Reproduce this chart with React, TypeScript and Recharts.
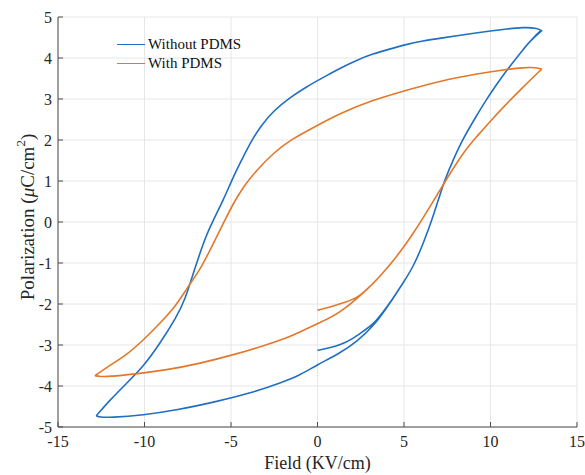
import React from 'react';
import { LineChart, Line, XAxis, YAxis, CartesianGrid, Legend } from 'recharts';

const xTicks = [-15, -10, -5, 0, 5, 10, 15];
const yTicks = [-5, -4, -3, -2, -1, 0, 1, 2, 3, 4, 5];

// Without PDMS (field in KV/cm, polarization in uC/cm2), in drawing order
const blueField = [
  0.0, 0.0, 0.7, 1.3, 2.0, 2.65, 3.3, 4.38, 5.0, 5.54, 6.12, 6.69, 7.27, 7.76, 8.3, 9.2, 9.75, 10.36, 10.94, 11.9, 12.4, 12.9,
  12.96, 12.96, 12.76, 11.9, 10.94, 10.0, 9.0, 7.08, 6.12, 5.02, 4.19, 3.2, 2.27, 1.3, 0.62, 0.0, -0.62, -1.59, -2.55, -3.32, -3.9,
  -4.29, -4.86, -5.44, -6.02, -6.5, -6.79, -7.18, -7.66, -8.14, -9.1, -10.07, -11.03, -11.99, -12.76, -12.8,
  -12.57, -11.99, -10.07, -8.14, -5.83, -3.9, -1.98, -1.0, -0.05, 1.3, 2.27, 3.3, 4.38, 5.0, 5.54,
  6.12, 6.69, 7.27, 7.76, 8.3, 9.2, 9.75, 10.36, 10.94, 11.9, 12.4, 12.94, 12.94,
];
const bluePol = [
  -3.13, -3.13, -3.07, -3.0, -2.86, -2.66, -2.48, -1.86, -1.45, -1.09, -0.52, 0.13, 0.94, 1.43, 1.95, 2.6, 2.98, 3.36, 3.7, 4.22, 4.46, 4.68,
  4.66, 4.66, 4.73, 4.75, 4.71, 4.66, 4.6, 4.48, 4.42, 4.32, 4.22, 4.1, 3.95, 3.75, 3.59, 3.45, 3.3, 3.04, 2.71, 2.32, 1.92,
  1.59, 1.11, 0.54, 0.05, -0.4, -0.76, -1.25, -1.9, -2.31, -2.96, -3.53, -3.93, -4.34, -4.71, -4.73,
  -4.76, -4.77, -4.71, -4.59, -4.38, -4.18, -3.9, -3.73, -3.49, -3.2, -2.92, -2.52, -1.86, -1.45, -1.09,
  -0.52, 0.13, 0.94, 1.43, 1.95, 2.6, 2.98, 3.36, 3.7, 4.22, 4.46, 4.66, 4.66,
];

// With PDMS
const orangeField = [
  0.0, 0.0, 0.7, 1.3, 2.27, 2.84, 3.61, 4.58, 5.54, 6.5, 7.47, 8.53, 9.2, 9.97, 10.74, 11.9, 12.96, 12.96,
  12.67, 11.9, 10.74, 9.0, 8.05, 7.08, 6.12, 5.02, 3.23, 1.3, 0.05, -1.59, -2.55, -3.51, -4.29, -4.86, -5.44,
  -5.92, -6.21, -6.79, -7.56, -8.14, -9.1, -10.07, -11.03, -11.99, -12.86, -12.86,
  -12.57, -11.99, -10.65, -8.72, -6.79, -4.86, -2.94, -1.59, -1.01, 0.05, 1.3, 2.84, 3.61, 4.58, 5.54,
  6.5, 7.47, 8.53, 9.2, 9.97, 10.74, 11.9, 12.96, 12.96,
];
const orangePol = [
  -2.15, -2.15, -2.08, -2.0, -1.86, -1.66, -1.33, -0.85, -0.28, 0.37, 1.06, 1.76, 2.08, 2.45, 2.8, 3.3, 3.73, 3.73,
  3.77, 3.77, 3.71, 3.6, 3.52, 3.43, 3.33, 3.2, 2.98, 2.65, 2.37, 2.0, 1.68, 1.27, 0.86, 0.46, -0.03,
  -0.44, -0.68, -1.17, -1.62, -2.02, -2.47, -2.88, -3.24, -3.49, -3.75, -3.75,
  -3.77, -3.77, -3.71, -3.61, -3.45, -3.24, -3.0, -2.8, -2.68, -2.47, -2.23, -1.66, -1.33, -0.85, -0.28,
  0.37, 1.06, 1.76, 2.08, 2.45, 2.8, 3.3, 3.73, 3.73,
];

const blueData = blueField.map((f, i) => ({ f, p: bluePol[i] }));
const orangeData = orangeField.map((f, i) => ({ f, p: orangePol[i] }));

const FONT = '"Liberation Serif", "Times New Roman", serif';
const AXIS = '#4d4d4d';
const TXT = '#262626';

const BottomTick = (props: any) => {
  const { x, y, payload } = props;
  const ay = y - 8;
  return (
    <g>
      <line x1={x} x2={x} y1={ay} y2={ay - 5} stroke={AXIS} />
      <text x={x} y={y} dy="0.75em" textAnchor="middle" fontFamily={FONT} fontSize={16} fill={TXT}>
        {payload.value}
      </text>
    </g>
  );
};

const LeftTick = (props: any) => {
  const { x, y, payload } = props;
  const ax = x + 6;
  return (
    <g>
      <line x1={ax} x2={ax + 5} y1={y} y2={y} stroke={AXIS} />
      <text x={x} y={y} dy="0.35em" textAnchor="end" fontFamily={FONT} fontSize={16} fill={TXT}>
        {payload.value}
      </text>
    </g>
  );
};

const TopTick = (props: any) => {
  const { x, y } = props;
  const ay = y + 8;
  return <line x1={x} x2={x} y1={ay} y2={ay + 5} stroke={AXIS} />;
};

const RightTick = (props: any) => {
  const { x, y } = props;
  const ax = x - 8;
  return <line x1={ax} x2={ax - 5} y1={y} y2={y} stroke={AXIS} />;
};

const XLabel = (props: any) => {
  const { viewBox } = props;
  const cx = viewBox.x + viewBox.width / 2;
  return (
    <text x={cx} y={463} textAnchor="middle" dominantBaseline="central" fontFamily={FONT} fontSize={18} fill={TXT}>
      Field (KV/cm)
    </text>
  );
};

const YLabel = () => (
  <text
    x={27}
    y={217}
    transform="rotate(-90, 27, 217)"
    textAnchor="middle"
    dominantBaseline="central"
    fontFamily={FONT}
    fontSize={19}
    fill={TXT}
  >
    Polarization (<tspan fontStyle="italic">μ</tspan>C/cm
    <tspan dy={-7} fontSize={13}>2</tspan>
    <tspan dy={7}>)</tspan>
  </text>
);

const LegendBox = () => {
  const items = [
    { name: 'Without PDMS', color: '#1f6fc2' },
    { name: 'With PDMS', color: '#e3782b' },
  ];
  return (
    <div style={{ fontFamily: FONT, fontSize: 15, color: '#111' }}>
      {items.map((it) => (
        <div key={it.name} style={{ display: 'flex', alignItems: 'center', height: 19 }}>
          <span style={{ display: 'inline-block', width: 28, height: 1.6, background: it.color, marginRight: 3 }} />
          <span>{it.name}</span>
        </div>
      ))}
    </div>
  );
};

export default function App() {
  return (
    <div style={{ position: 'absolute', left: 0, top: 0, background: '#fff' }}>
      <LineChart width={585} height={475} margin={{ top: 17, right: 8, bottom: 0, left: 0 }}>
        <CartesianGrid stroke="#e6e6e6" strokeWidth={1} />
        <XAxis
          dataKey="f"
          type="number"
          domain={[-15, 15]}
          ticks={xTicks}
          height={48}
          tickSize={6}
          tickMargin={2}
          tickLine={false}
          axisLine={{ stroke: AXIS }}
          tick={(p: any) => <BottomTick {...p} />}
          label={<XLabel />}
          allowDataOverflow
        />
        <XAxis
          xAxisId="top"
          orientation="top"
          type="number"
          domain={[-15, 15]}
          ticks={xTicks}
          height={0}
          tickSize={6}
          tickMargin={2}
          tickLine={false}
          axisLine={{ stroke: AXIS }}
          tick={(p: any) => <TopTick {...p} />}
          allowDataOverflow
        />
        <YAxis
          dataKey="p"
          type="number"
          domain={[-5, 5]}
          ticks={yTicks}
          width={58}
          tickSize={6}
          tickMargin={0}
          tickLine={false}
          axisLine={{ stroke: AXIS }}
          tick={(p: any) => <LeftTick {...p} />}
          label={<YLabel />}
          allowDataOverflow
        />
        <YAxis
          yAxisId="right"
          orientation="right"
          type="number"
          domain={[-5, 5]}
          ticks={yTicks}
          width={0}
          tickSize={6}
          tickMargin={2}
          tickLine={false}
          axisLine={{ stroke: AXIS }}
          tick={(p: any) => <RightTick {...p} />}
          allowDataOverflow
        />
        <Legend
          layout="vertical"
          align="center"
          verticalAlign="middle"
          wrapperStyle={{ left: 117, top: 35, width: 'auto', height: 'auto' }}
          content={<LegendBox />}
        />
        <Line
          data={blueData}
          dataKey="p"
          name="Without PDMS"
          type="basis"
          stroke="#1f6fc2"
          strokeWidth={1.6}
          dot={false}
          activeDot={false}
          isAnimationActive={false}
        />
        <Line
          data={orangeData}
          dataKey="p"
          name="With PDMS"
          type="basis"
          stroke="#e3782b"
          strokeWidth={1.6}
          dot={false}
          activeDot={false}
          isAnimationActive={false}
        />
      </LineChart>
    </div>
  );
}
